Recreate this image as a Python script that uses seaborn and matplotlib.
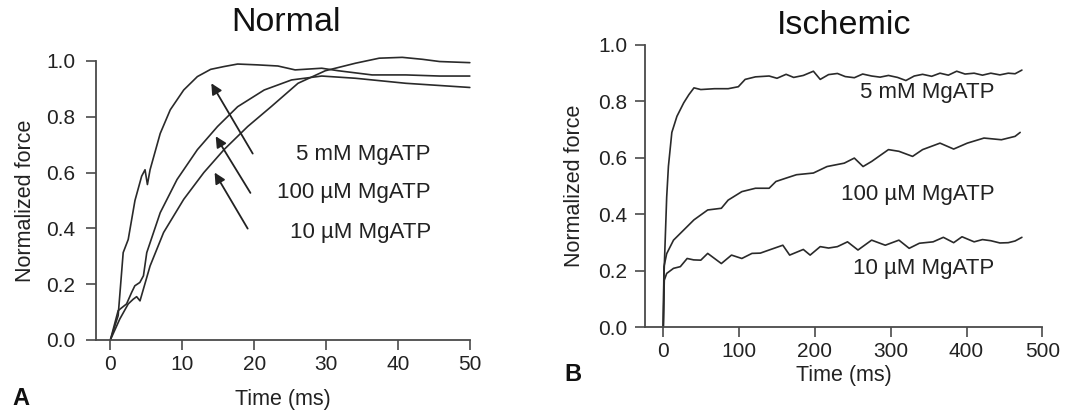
import matplotlib
matplotlib.use("Agg")
import matplotlib.pyplot as plt
import seaborn as sns
import pandas as pd

# ---------------- data: Normal (panel A) ----------------
normal_t_5mM = [0, 1.08, 1.78, 2.48, 3.42, 4.35, 4.82, 5.15, 5.52, 6.93, 8.33, 10.2, 12.1, 13.95,
                15.8, 17.7, 20.5, 23.3, 25.7, 29.4, 31.7, 36.4, 41.1, 45.8, 50]
normal_f_5mM = [0, 0.087, 0.313, 0.36, 0.50, 0.587, 0.61, 0.557, 0.61, 0.74, 0.825, 0.896, 0.944, 0.97,
                0.98, 0.989, 0.986, 0.982, 0.968, 0.974, 0.965, 0.95, 0.95, 0.946, 0.946]

normal_t_100uM = [0, 1.08, 2.25, 2.95, 3.4, 4.1, 4.6, 5.06, 6.93, 9.27, 12.1, 14.9, 17.7, 21.4,
                  25.2, 29.4, 34.1, 41.1, 50]
normal_f_100uM = [0, 0.105, 0.129, 0.17, 0.194, 0.206, 0.23, 0.313, 0.456, 0.575, 0.682, 0.765, 0.836, 0.896,
                  0.932, 0.946, 0.938, 0.92, 0.905]

normal_t_10uM = [0, 1.31, 2.48, 3.18, 3.65, 4.12, 4.59, 5.52, 7.4, 10.2, 13.0, 15.8, 19.1, 22.4,
                 26.1, 29.9, 34.1, 37.4, 40.6, 43.4, 45.8, 50]
normal_f_10uM = [0, 0.075, 0.129, 0.146, 0.155, 0.14, 0.182, 0.265, 0.385, 0.504, 0.60, 0.682, 0.765, 0.837,
                 0.92, 0.965, 0.992, 1.01, 1.013, 1.006, 0.998, 0.994]

# ---------------- data: Ischemic (panel B) ----------------
isch_t_5mM = [0, 0.9, 4.5, 6.8, 11.3, 18, 27, 33.8, 40.5, 49.5, 67.6, 85.6, 99, 108, 121.6, 139.6,
              150, 162, 172, 184.7, 198, 207, 218, 229.7, 240, 252, 263, 274.8, 286, 297, 309, 320,
              331, 342, 354, 365, 376, 387, 398, 410, 421, 432, 444, 455, 464, 473]
isch_f_5mM = [0, 0.18, 0.46, 0.57, 0.69, 0.747, 0.795, 0.824, 0.848, 0.842, 0.845, 0.845, 0.852, 0.878,
              0.887, 0.89, 0.882, 0.896, 0.885, 0.892, 0.907, 0.878, 0.895, 0.899, 0.888, 0.884, 0.897,
              0.89, 0.886, 0.892, 0.885, 0.874, 0.89, 0.896, 0.889, 0.9, 0.893, 0.907, 0.897, 0.90,
              0.893, 0.90, 0.894, 0.90, 0.898, 0.911]

isch_t_100uM = [0, 0.9, 4.5, 13.5, 27, 40.5, 58.6, 76.6, 85.6, 103.6, 121.6, 139.6, 148.6, 162, 175.7,
                198, 216, 238.7, 252, 263.5, 274.8, 297, 310.8, 328.8, 342, 365, 383, 401, 423, 446,
                464, 470.7]
isch_f_100uM = [0, 0.214, 0.26, 0.308, 0.344, 0.38, 0.415, 0.421, 0.45, 0.48, 0.492, 0.492, 0.516, 0.528,
                0.54, 0.546, 0.569, 0.581, 0.599, 0.569, 0.587, 0.629, 0.623, 0.605, 0.629, 0.652,
                0.631, 0.652, 0.67, 0.664, 0.676, 0.69]

isch_t_10uM = [0, 1.35, 4.5, 13.5, 22.5, 31.5, 40, 49.5, 58.6, 67.6, 76.6, 90, 103.6, 117, 128, 139.6,
               157.7, 166.7, 184.7, 193.7, 207, 218, 229.7, 243, 256.8, 274.8, 292.8, 310.8, 324.3,
               337.8, 355.9, 369.4, 383, 394, 410, 421, 432, 444, 455, 464, 473]
isch_f_10uM = [0, 0.166, 0.19, 0.208, 0.214, 0.243, 0.238, 0.237, 0.261, 0.243, 0.225, 0.255, 0.243,
               0.261, 0.262, 0.273, 0.29, 0.255, 0.275, 0.255, 0.285, 0.28, 0.285, 0.302, 0.273, 0.308,
               0.29, 0.308, 0.279, 0.297, 0.302, 0.318, 0.299, 0.32, 0.302, 0.31, 0.306, 0.298, 0.299,
               0.305, 0.318]

labels = ["5 mM MgATP", "100 \u00b5M MgATP", "10 \u00b5M MgATP"]
y_ticks = [0.0, 0.2, 0.4, 0.6, 0.8, 1.0]
normal_x_ticks = [0, 10, 20, 30, 40, 50]
isch_x_ticks = [0, 100, 200, 300, 400, 500]

# ---------------- style ----------------
sns.set_theme(style="ticks")
plt.rcParams['font.family'] = ['Liberation Sans', 'DejaVu Sans']
LINE = "#2a2a2a"
AXC = "#4a4a4a"
TXT = "#222222"

fig = plt.figure(figsize=(10.68, 4.12), dpi=100)
axA = fig.add_axes([0.0899, 0.175, 0.350, 0.677])
axB = fig.add_axes([0.604, 0.2063, 0.372, 0.6845])


def df_of(t, f, name):
    return pd.DataFrame({"Time": t, "Force": f, "Condition": name})


def draw(ax, series, xlim, xticks, xlabelpad, ylabelpad, ypad):
    for (t, f, name) in series:
        d = df_of(t, f, name)
        sns.lineplot(data=d, x="Time", y="Force", ax=ax, color=LINE, lw=1.2,
                     estimator=None, sort=False, legend=False, clip_on=False)
    ax.set_xlim(*xlim)
    ax.set_ylim(0, 1.0)
    ax.set_xticks(xticks)
    ax.set_yticks(y_ticks)
    ax.set_yticklabels([f"{v:.1f}" for v in y_ticks])
    sns.despine(ax=ax)
    for s in ("left", "bottom"):
        ax.spines[s].set_color(AXC)
        ax.spines[s].set_linewidth(1.3)
    ax.tick_params(direction="out", length=7, width=1.2, colors=AXC,
                   labelcolor=TXT, labelsize=15, pad=4)
    ax.tick_params(axis="y", pad=ypad)
    ax.set_xlabel("Time (ms)", fontsize=15.5, color=TXT, labelpad=xlabelpad)
    ax.set_ylabel("Normalized force", fontsize=15.5, color=TXT, labelpad=ylabelpad)


draw(axA, [(normal_t_5mM, normal_f_5mM, labels[0]),
           (normal_t_100uM, normal_f_100uM, labels[1]),
           (normal_t_10uM, normal_f_10uM, labels[2])], (-2, 50), normal_x_ticks, 11, 7, 8)
draw(axB, [(isch_t_5mM, isch_f_5mM, labels[0]),
           (isch_t_100uM, isch_f_100uM, labels[1]),
           (isch_t_10uM, isch_f_10uM, labels[2])], (-24, 500), isch_x_ticks, 3, 9, 6)

# annotations panel A
a_text_y = [0.664, 0.53, 0.385]
a_tail = [(19.8, 0.668), (19.48, 0.527), (19.1, 0.399)]
a_head = [(14.04, 0.92), (14.65, 0.73), (14.5, 0.60)]
for lab, ty, tl, hd in zip(labels, a_text_y, a_tail, a_head):
    axA.text(44.6, ty, lab, ha="right", va="center", fontsize=16, color=TXT)
    axA.annotate("", xy=hd, xytext=tl,
                 arrowprops=dict(arrowstyle="-|>", color=TXT, lw=1.3,
                                 mutation_scale=16, shrinkA=0, shrinkB=0))

# annotations panel B
b_text_y = [0.83, 0.469, 0.208]
for lab, ty in zip(labels, b_text_y):
    axB.text(437, ty, lab, ha="right", va="center", fontsize=16, color=TXT)

# titles and panel letters
fig.text(0.268, 0.945, "Normal", ha="center", va="center", fontsize=24.5, color="#111111")
fig.text(0.790, 0.938, "Ischemic", ha="center", va="center", fontsize=24.5, color="#111111")
fig.text(0.020, 0.032, "A", ha="center", va="center", fontsize=17, fontweight="bold", color="#111111")
fig.text(0.536, 0.090, "B", ha="center", va="center", fontsize=17, fontweight="bold", color="#111111")

fig.savefig("out.png", dpi=100, facecolor="white")
